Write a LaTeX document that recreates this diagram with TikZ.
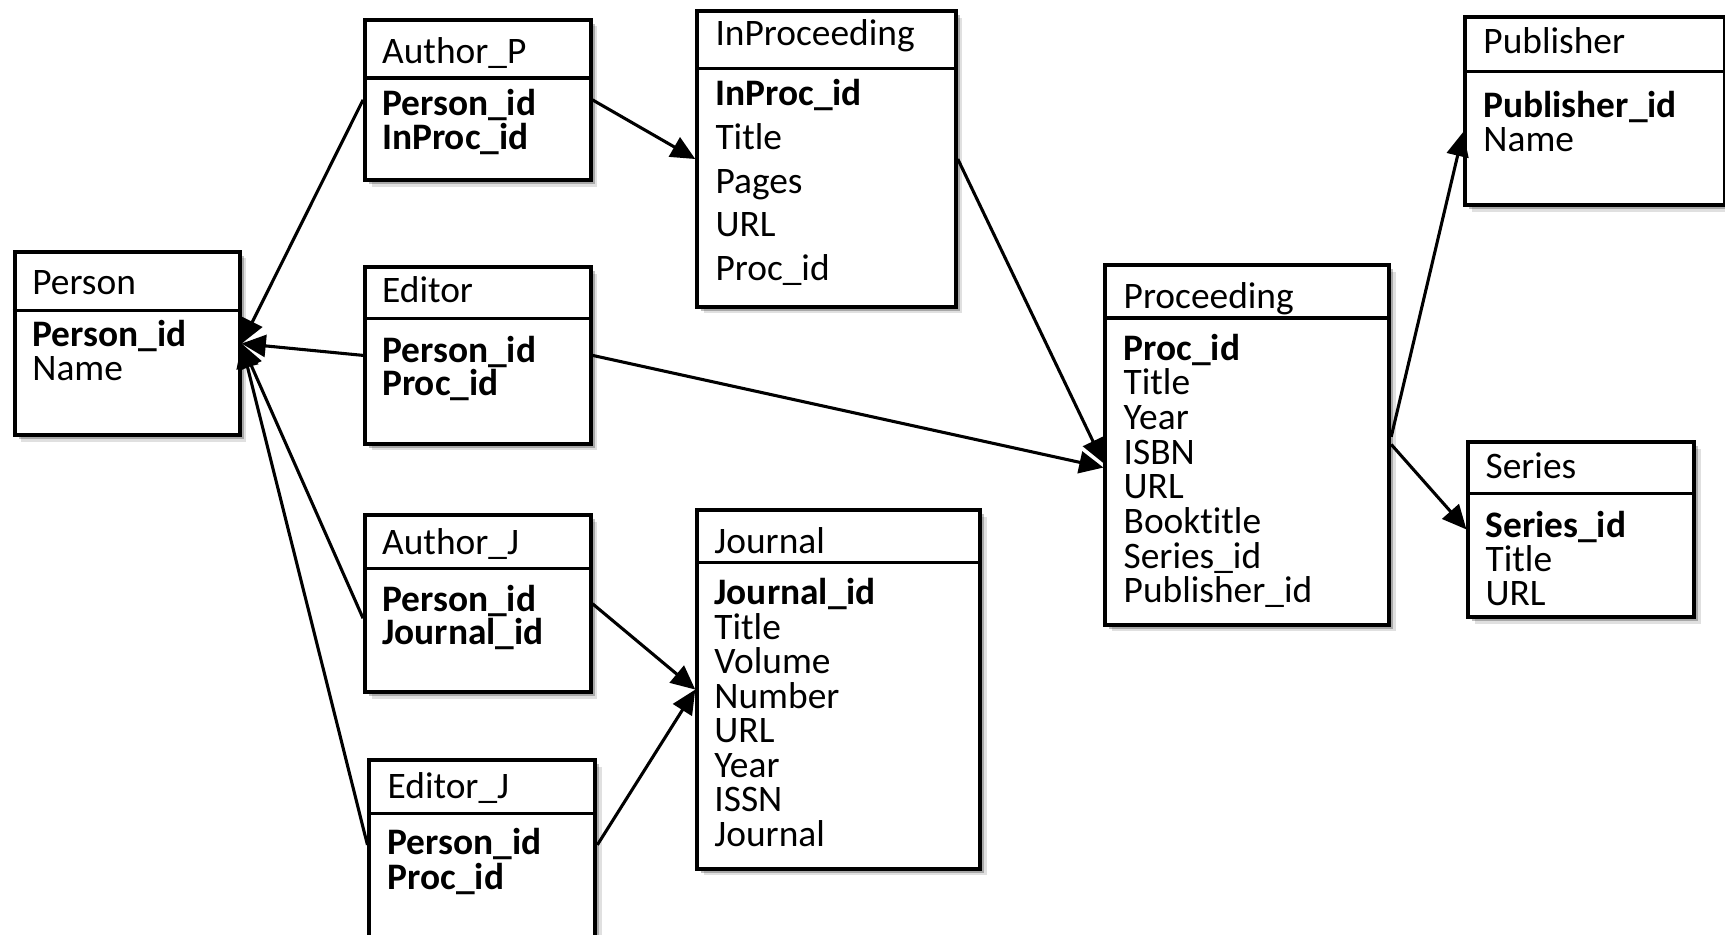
\documentclass[tikz,border=0pt]{standalone}
\usepackage{fontspec}
\setmainfont[Ligatures=NoCommon]{Carlito}
\usetikzlibrary{arrows.meta,shadows}

\tikzset{
  entitybox/.style={rectangle, draw=black, line width=1.8pt, fill=white, inner sep=0pt,
    drop shadow={shadow xshift=3pt, shadow yshift=-3pt, opacity=.12, fill=black},
    drop shadow={shadow xshift=1.8pt, shadow yshift=-1.8pt, opacity=.25, fill=black}},
  divider/.style={line width=1.5pt},
  field/.style={inner sep=0pt, anchor=base west, font=\fontsize{17}{20}\selectfont},
  fk/.style={line width=1.4pt, -{Triangle[length=11pt,width=10pt]}},
}

% table box: name, left, top, right, bottom, divider y, text x, title baseline, title
\newcommand\entity[9]{%
  \node[entitybox, anchor=north west,
        minimum width={(#4-#2)*0.5pt}, minimum height={(#5-#3)*0.5pt}] (#1) at (#2,#3) {};
  \draw[divider] (#2,#6) -- (#4,#6);
  \node[field] (#1-title) at (#7,#8) {#9};
}
% attribute rows: name, text x, first baseline, row step, rows
\newcommand\fields[5]{%
  \foreach \txt [count=\k from 0] in {#5}
    \node[field] (#1-\k) at (#2,{#3+\k*#4}) {\txt};
}

\begin{document}
\begin{tikzpicture}[x=0.5pt, y=-0.5pt]
\useasboundingbox (0,0) rectangle (1568,849);
\clip (0,0) rectangle (1568,849);

\entity{person}{11.5}{227}{216}{394}{282}{29}{268}{Person}
\fields{person}{29}{315}{30.6}{{\bfseries Person\_id}, Name}

\entity{authorp}{330}{16}{535}{162}{71}{347}{57.6}{Author\_P}
\fields{authorp}{347}{105}{30.6}{{\bfseries Person\_id}, {\bfseries InProc\_id}}

\entity{editor}{330}{241}{535}{401.5}{289.4}{347}{275}{Editor}
\fields{editor}{347}{329.3}{30.6}{{\bfseries Person\_id}, {\bfseries Proc\_id}}

\entity{authorj}{330}{466.7}{535}{627.3}{516.7}{347}{504}{Author\_J}
\fields{authorj}{347}{555.5}{30.6}{{\bfseries Person\_id}, {\bfseries Journal\_id}}

\entity{editorj}{334}{689.4}{539.4}{880}{739.4}{352}{726}{Editor\_J}
\fields{editorj}{352}{777}{31.6}{{\bfseries Person\_id}, {\bfseries Proc\_id}}

\entity{inproc}{632}{8.5}{867}{277}{62}{650}{41}{InProceeding}
\fields{inproc}{650}{96}{39.75}{{\bfseries InProc\_id}, Title, Pages, URL, Proc\_id}

\entity{journal}{632}{462}{889.4}{788}{511.5}{649}{503}{Journal}
\fields{journal}{649}{549.5}{31.4}{{\bfseries Journal\_id}, Title, Volume, Number, URL, Year, ISSN, Journal}

\entity{proc}{1003}{239}{1261}{566}{289}{1021}{280}{Proceeding}
\fields{proc}{1021}{327.5}{31.5}{{\bfseries Proc\_id}, Title, Year, ISBN, URL, Booktitle, Series\_id, Publisher\_id}

\entity{publisher}{1330}{13.6}{1566}{184.8}{65.2}{1348}{48.5}{Publisher}
\fields{publisher}{1348}{107}{31}{{\bfseries Publisher\_id}, Name}

\entity{series}{1333}{400}{1538}{559}{448.5}{1350}{434.8}{Series}
\fields{series}{1350}{488.4}{31}{{\bfseries Series\_id}, Title, URL}

% foreign keys
\draw[fk] (authorp.west) -- (person.east);
\draw[fk] (editor.west) -- (person.east);
\draw[fk] (authorj.west |- 0,562) -- (person.east);
\draw[fk] (editorj.west |- 0,768) -- (person.east);
\draw[fk] (authorp.east) -- (inproc.west);
\draw[fk] (inproc.east) -- (proc.west |- 0,421);
\draw[fk] (editor.east) -- (proc.west |- 0,425);
\draw[fk] (authorj.east) -- (journal.west);
\draw[fk] (editorj.east |- 0,768) -- (journal.west);
\draw[fk] (proc.east |- 0,397) -- (publisher.west |- 0,120);
\draw[fk] (proc.east |- 0,404) -- (series.west);
\end{tikzpicture}
\end{document}
